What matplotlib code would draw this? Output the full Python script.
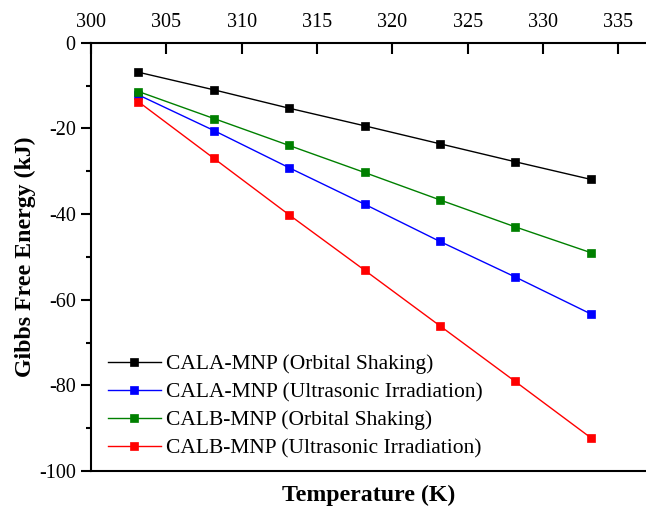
import matplotlib
matplotlib.use("Agg")
import matplotlib.pyplot as plt
from matplotlib.ticker import MultipleLocator

temperature = [303.15, 308.15, 313.15, 318.15, 323.15, 328.15, 333.15]
cala_orbital = [-6.9, -11.0, -15.3, -19.4, -23.6, -27.8, -31.9]
cala_ultra = [-12.2, -20.5, -29.2, -37.7, -46.4, -54.7, -63.3]
calb_orbital = [-11.4, -17.7, -24.0, -30.3, -36.7, -43.0, -49.0]
calb_ultra = [-13.8, -27.0, -40.2, -53.1, -66.1, -79.1, -92.2]

series = [
    ("CALA-MNP (Orbital Shaking)", cala_orbital, "#000000"),
    ("CALA-MNP (Ultrasonic Irradiation)", cala_ultra, "#0000FF"),
    ("CALB-MNP (Orbital Shaking)", calb_orbital, "#008000"),
    ("CALB-MNP (Ultrasonic Irradiation)", calb_ultra, "#FF0000"),
]

plt.rcParams["font.family"] = ["Liberation Serif", "DejaVu Serif"]
plt.rcParams["axes.unicode_minus"] = False

fig = plt.figure(figsize=(6.46, 5.08), dpi=100)
ax = fig.add_axes([91 / 646, 1 - 471 / 508, 555 / 646, (471 - 42.7) / 508])

for label, vals, color in series:
    ax.plot(temperature, vals, color=color, lw=1.0, marker="s", markersize=6.3,
            markeredgewidth=0.5, markeredgecolor=color, label=label)

ax.set_xlim(300, 300 + 555 / 15.07)
ax.set_ylim(-100, 0)

ax.xaxis.set_major_locator(MultipleLocator(5))
ax.yaxis.set_major_locator(MultipleLocator(20))
ax.yaxis.set_minor_locator(MultipleLocator(10))

ax.xaxis.tick_top()
ax.tick_params(axis="x", which="major", direction="in", length=8, width=1.5,
               top=True, bottom=False, labeltop=True, labelbottom=False,
               labelsize=14.5, pad=8)
ax.tick_params(axis="x", which="minor", top=False, bottom=False)
ax.tick_params(axis="y", which="major", direction="out", length=7, width=1.5,
               left=True, right=False, labelsize=14.5, pad=4)
ax.tick_params(axis="y", which="minor", direction="out", length=3.5, width=1.5,
               left=True, right=False)

for s in ["left", "top", "bottom"]:
    ax.spines[s].set_linewidth(1.5)
ax.spines["right"].set_visible(False)

ax.set_xlabel("Temperature (K)", fontsize=17.2, fontweight="bold", labelpad=10)
ax.xaxis.set_label_position("bottom")
ax.set_ylabel("Gibbs Free Energy (kJ)", fontsize=17.2, fontweight="bold")
ax.yaxis.set_label_coords(-(91 - 36) / 555, 0.5)

leg = ax.legend(loc="lower left", bbox_to_anchor=(0.03, 0.03), frameon=False,
                fontsize=15.5, handlelength=2.47, handletextpad=0.23,
                labelspacing=0.365, borderpad=0, borderaxespad=0)

fig.savefig("out.png", dpi=100)
